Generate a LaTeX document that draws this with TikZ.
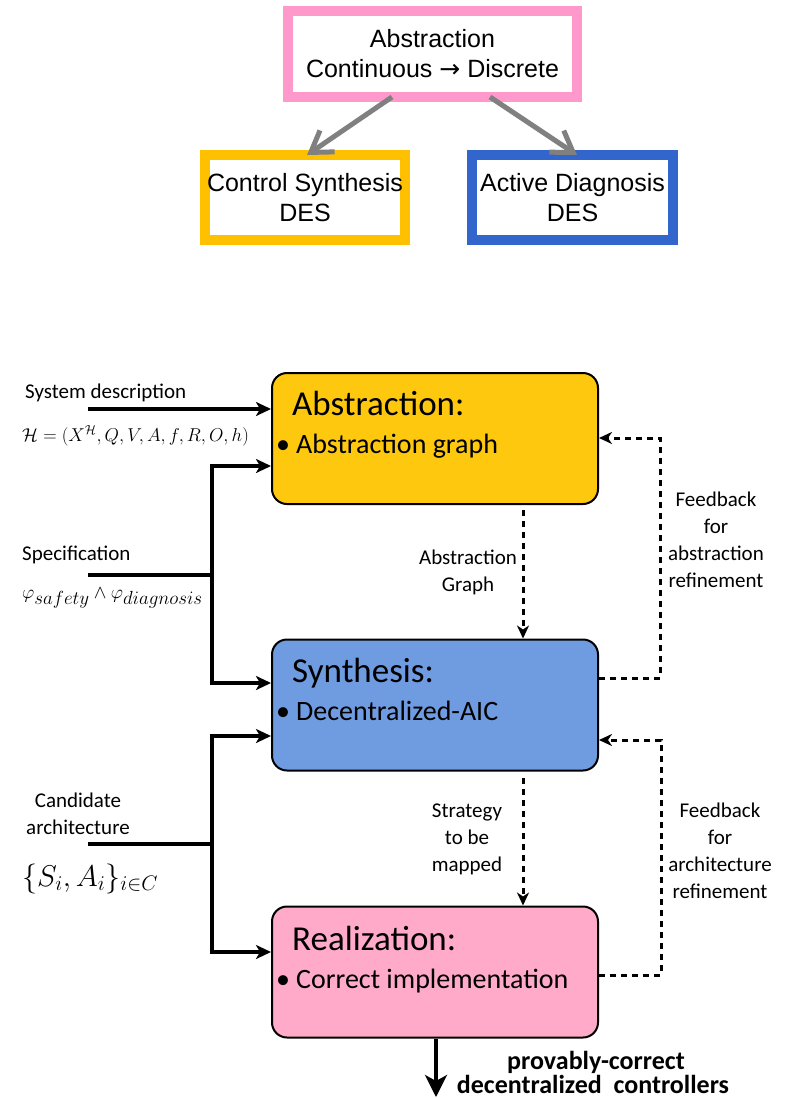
\RequirePackage{fix-cm}
\documentclass[tikz,border=0pt]{standalone}
\usepackage{fontspec}
\setmainfont{Liberation Sans}
\newfontfamily\gill{Carlito}
\newfontfamily\djv{DejaVu Sans}
\usetikzlibrary{arrows.meta}
\definecolor{pinkb}{HTML}{FF99CC}
\definecolor{yelb}{HTML}{FFC000}
\definecolor{blueb}{HTML}{3366CC}
\definecolor{absfill}{HTML}{FDC80E}
\definecolor{synfill}{HTML}{6F9BE0}
\definecolor{realfill}{HTML}{FEAAC8}
\definecolor{grayarr}{HTML}{808080}
\begin{document}
\begin{tikzpicture}[x=1pt,y=-1pt,
  topbox/.style={draw, line width=10pt, fill=white, inner sep=0pt, align=center, font=\fontsize{25}{30}\selectfont},
  stage/.style={draw, line width=2pt, rounded corners=15pt, minimum width=326pt, minimum height=131pt, inner sep=0pt},
  ttl/.style={anchor=base west, inner sep=0pt, font=\gill\fontsize{35}{40}\selectfont},
  bul/.style={anchor=base west, inner sep=0pt, font=\gill\fontsize{28}{32}\selectfont},
  lbl/.style={inner sep=0pt, font=\gill\fontsize{21}{27}\selectfont, align=center},
  mth/.style={anchor=base west, inner sep=0pt},
  inarrow/.style={line width=3.5pt, -{Stealth[length=15pt,width=14pt,inset=4pt]}},
  plain/.style={line width=3.5pt},
  feed/.style={line width=3pt, dash pattern=on 6pt off 5pt, -{Stealth[length=13pt,width=12pt,inset=4pt]}},
  grayarrow/.style={draw=grayarr, line width=5pt, -{Straight Barb[length=20pt,width=26pt,line width=5pt]}}
]
\useasboundingbox (0,0) rectangle (789,1098);

% ---------- top part ----------
\node[topbox, draw=pinkb, minimum width=289pt, minimum height=86pt] (top) at (432.5,54) {Abstraction\\Continuous {\djv →} Discrete};
\node[topbox, draw=yelb, minimum width=200pt, minimum height=85pt] (ctrl) at (305,197.5) {Control Synthesis\\DES};
\node[topbox, draw=blueb, minimum width=201pt, minimum height=85pt] (diag) at (572.5,197.5) {Active Diagnosis\\DES};
\draw[grayarrow] ([xshift=-40.5pt,yshift=5pt]top.south) -- ([xshift=2pt,yshift=-5pt]ctrl.north);
\draw[grayarrow] ([xshift=57.5pt,yshift=5pt]top.south) -- ([xshift=4.5pt,yshift=-5pt]diag.north);

% ---------- bottom part ----------
\node[stage, fill=absfill] (abs) at (435,438.5) {};
\node[stage, fill=synfill] (syn) at (435,705) {};
\node[stage, fill=realfill] (real) at (435,972) {};

\node[ttl] (absT) at (292,415) {Abstraction:};
\node[bul] (absB) at (276,453) {•\hspace{6pt}Abstraction graph};
\node[ttl] (synT) at (292,682) {Synthesis:};
\node[bul] (synB) at (276,720) {•\hspace{6pt}Decentralized-AIC};
\node[ttl] (realT) at (292,950) {Realization:};
\node[bul] (realB) at (276,988) {•\hspace{6pt}Correct implementation};

% inputs
\node[lbl, anchor=base west] (sysd) at (25,398) {System description};
\node[mth, font=\fontsize{18.6}{22}\selectfont] (hyb) at (22,441) {$\mathcal{H}=(X^{\mathcal{H}},Q,V,A,f,R,O,h)$};
\node[lbl, anchor=base west] (spec) at (22,560) {Specification};
\node[mth, font=\fontsize{19}{22}\selectfont] (phi) at (22,598) {$\varphi_{\textstyle safety}\wedge\varphi_{\textstyle diagnosis}$};
\node[lbl] (cand) at (78,814) {Candidate\\architecture};
\node[mth, font=\fontsize{30}{34}\selectfont] (arch) at (22,886) {$\{S_i,A_i\}_{i\in C}$};

\coordinate (s1) at (88,409);
\coordinate (sp) at (88,575);
\coordinate (j1) at (212,575);
\coordinate (ca) at (88,844);
\coordinate (j2) at (212,844);

\draw[inarrow] (s1) -- (abs.west |- s1);
\draw[plain] (sp) -- (j1);
\draw[inarrow] (j1) -- (212,466) -- (abs.west |- 0,466);
\draw[inarrow] (j1) -- (212,683) -- (syn.west |- 0,683);
\draw[plain] (ca) -- (j2);
\draw[inarrow] (j2) -- (212,736) -- (syn.west |- 0,736);
\draw[inarrow] (j2) -- (212,952) -- (real.west |- 0,952);

% dashed flows
\coordinate (d1) at (523,510);
\draw[feed] (d1) -- (syn.north -| d1);
\node[lbl] (agl) at (468,572) {Abstraction\\Graph};
\coordinate (d2) at (523,778);
\draw[feed] (d2) -- (real.north -| d2);
\node[lbl] (stl) at (467,839) {Strategy\\to be\\mapped};

\draw[feed] (syn.east |- 0,678) -- (660,678) -- (660,438) -- (abs.east |- 0,438);
\node[lbl] (fb1) at (716,540) {Feedback\\for\\abstraction\\refinement};
\draw[feed] (real.east |- 0,975) -- (661,975) -- (661,740) -- (syn.east |- 0,740);
\node[lbl] (fb2) at (720,851) {Feedback\\for\\architecture\\refinement};

% output
\coordinate (out) at (436,1097);
\draw[line width=3.5pt, -{Stealth[length=22pt,width=22pt,inset=6pt]}] (real.south -| out) -- (out);
\node[inner sep=0pt, anchor=base, font=\gill\bfseries\fontsize{26}{30}\selectfont] (o1) at (596,1069) {provably-correct};
\node[inner sep=0pt, anchor=base, font=\gill\bfseries\fontsize{26}{30}\selectfont] (o2) at (593,1093) {decentralized\ \ controllers};
\end{tikzpicture}
\end{document}
